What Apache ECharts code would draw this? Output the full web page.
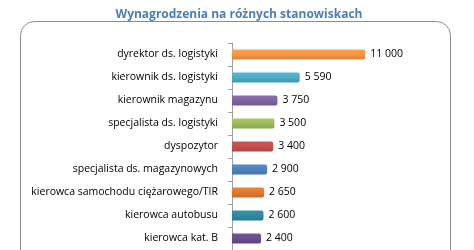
<!DOCTYPE html>
<html><head><meta charset="utf-8">
<script src="https://cdn.jsdelivr.net/npm/echarts@6/dist/echarts.min.js"></script>
<style>html,body{margin:0;padding:0;background:#fff}#c{width:474px;height:250px}</style>
</head><body><div id="c"></div>
<script>
const titleText = 'Wynagrodzenia na różnych stanowiskach';
const categories = ['dyrektor ds. logistyki','kierownik ds. logistyki','kierownik magazynu','specjalista ds. logistyki','dyspozytor','specjalista ds. magazynowych','kierowca samochodu ciężarowego/TIR','kierowca autobusu','kierowca kat. B'];
const values = [11000,5590,3750,3500,3400,2900,2650,2600,2400];
const colors = ['#F79646','#4BACC6','#8064A2','#9BBB59','#C0504D','#4F81BD','#E0792F','#31899F','#6A4E8E'];

function fmt(v){return String(v).replace(/\B(?=(\d{3})+(?!\d))/g,' ');}
function shade(hex,f){const n=parseInt(hex.slice(1),16);let r=n>>16,g=(n>>8)&255,b=n&255;r=Math.round(r*f);g=Math.round(g*f);b=Math.round(b*f);return 'rgb('+r+','+g+','+b+')';}

const chart = echarts.init(document.getElementById('c'),null,{renderer:'canvas'});
chart.setOption({
  animation:false,
  title:{text:titleText,left:234,top:4,textAlign:'center',textStyle:{color:'#4A7EBB',fontSize:12,fontWeight:'bold',fontFamily:'Open Sans'}},
  graphic:[{type:'rect',shape:{x:20.5,y:21.5,width:430,height:260,r:14},style:{fill:'none',stroke:'#8c8c8c',lineWidth:1},z:-1}],
  grid:{left:232,right:24,top:43,height:211.5,containLabel:false},
  xAxis:{type:'value',min:0,max:18000,show:false},
  yAxis:{type:'category',inverse:true,data:categories,
    axisLine:{show:true,lineStyle:{color:'#a0a0a0'}},
    axisTick:{show:true,length:4,lineStyle:{color:'#a0a0a0'}},
    axisLabel:{margin:14,color:'#000',fontSize:10.5,fontFamily:'Open Sans'}},
  series:[{type:'bar',barWidth:10,
    data:values.map((v,i)=>({value:v,itemStyle:{color:new echarts.graphic.LinearGradient(0,0,0,1,[{offset:0,color:shade(colors[i],1.08)},{offset:0.5,color:colors[i]},{offset:1,color:shade(colors[i],0.88)}]),borderRadius:[0,2,2,0]}})),
    label:{show:true,position:'right',distance:5,color:'#000',fontSize:10.5,fontFamily:'Open Sans',formatter:p=>fmt(p.value)}
  }]
});
</script></body></html>
